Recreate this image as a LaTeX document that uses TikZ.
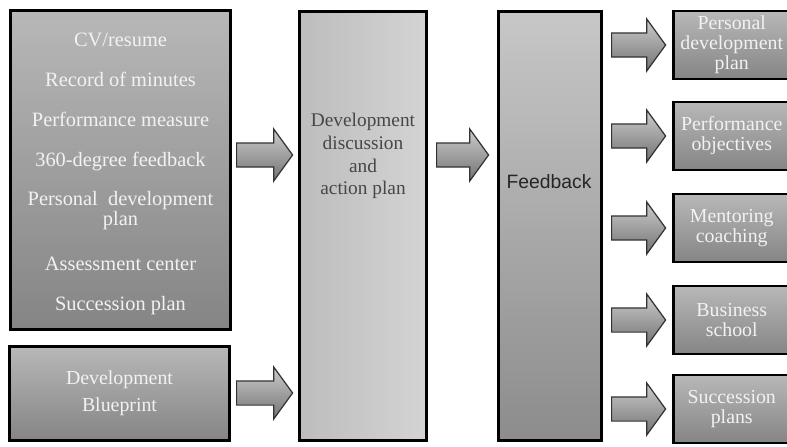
\documentclass[tikz,border=0pt]{standalone}
\usepackage{fontspec}
\setmainfont{Liberation Serif}
\setsansfont{Liberation Sans}
\usetikzlibrary{shapes.arrows}

\definecolor{greytop}{gray}{0.72}
\definecolor{greybot}{gray}{0.52}
\definecolor{lightleft}{gray}{0.74}
\definecolor{lightright}{gray}{0.83}
\definecolor{fbtop}{gray}{0.78}
\definecolor{fbbot}{gray}{0.55}
\definecolor{paletext}{gray}{0.95}

\tikzset{
    box/.style={draw=black, line width=1.6pt, inner sep=2pt, align=center},
    greybox/.style={box, top color=greytop, bottom color=greybot},
    lightbox/.style={box, left color=lightleft, right color=lightright},
    fbbox/.style={box, top color=fbtop, bottom color=fbbot},
    outbox/.style={greybox, minimum width=2.33cm, minimum height=1.36cm,
                   text=paletext, font=\fontsize{11.3}{11.5}\selectfont},
    boxtext/.style={align=center, inner sep=0pt, font=\fontsize{11.6}{11}\selectfont},
    blockarrow/.style={single arrow, draw=black!80, line width=0.7pt, anchor=tail,
                       top color=gray!40, bottom color=black!55,
                       single arrow head extend=0.28cm,
                       single arrow tip angle=108, inner xsep=0pt, inner ysep=0.23cm},
}

\begin{document}
\begin{tikzpicture}[x=0.02cm, y=-0.02cm]
    \useasboundingbox (0,0) rectangle (787,446);
    \clip (0,0) rectangle (787,446);

    % inputs
    \node[greybox, minimum width=4.40cm, minimum height=6.38cm] (inputs) at (120.5,170) {};
    \node[boxtext, text=paletext] (inputstext) at (120.5,174)
        {CV/resume\\[11.7pt]Record of minutes\\[11.7pt]Performance measure\\[11.7pt]%
         360-degree feedback\\[11.7pt]Personal\ \ development\\plan\\[15pt]%
         Assessment center\\[11.7pt]Succession plan};
    \node[greybox, minimum width=4.40cm, minimum height=1.88cm, text=paletext,
          font=\fontsize{11.3}{11.5}\selectfont] (blueprint) at (119.5,393.5)
        {Development\\[3.8pt]Blueprint};

    % discussion and feedback
    \node[lightbox, minimum width=2.54cm, minimum height=8.58cm] (discuss) at (363,226) {};
    \node[boxtext, text=black!72, font=\fontsize{11}{13}\selectfont] (discusstext) at (363,156)
        {Development\\discussion\\and\\action plan};
    \node[fbbox, minimum width=2.06cm, minimum height=8.58cm] (feedback) at (550,226) {};
    \node[boxtext, text=black!85, font=\sffamily\fontsize{11}{11}\selectfont] (feedbacktext)
        at (549,182) {Feedback};

    % outcomes
    \node[outbox] (pdp) at (731.75,45) {Personal\\development\\plan};
    \node[outbox] (objectives) at (731.75,136) {Performance\\objectives};
    \node[outbox] (mentoring) at (731.75,228) {Mentoring\\coaching};
    \node[outbox] (school) at (731.75,320) {Business\\school};
    \node[outbox] (succession) at (731.75,409) {Succession\\plans};

    % block arrows
    \node[blockarrow, minimum height=1.12cm] (toinputs) at (236,155) {};
    \node[blockarrow, minimum height=1.12cm] (toblueprint) at (236,393) {};
    \node[blockarrow, minimum height=1.04cm] (todiscuss) at (436,155) {};
    \foreach \out in {pdp,objectives,mentoring,school,succession}
        \node[blockarrow, minimum height=1.08cm] (to\out) at (611,0 |- \out) {};
\end{tikzpicture}
\end{document}
